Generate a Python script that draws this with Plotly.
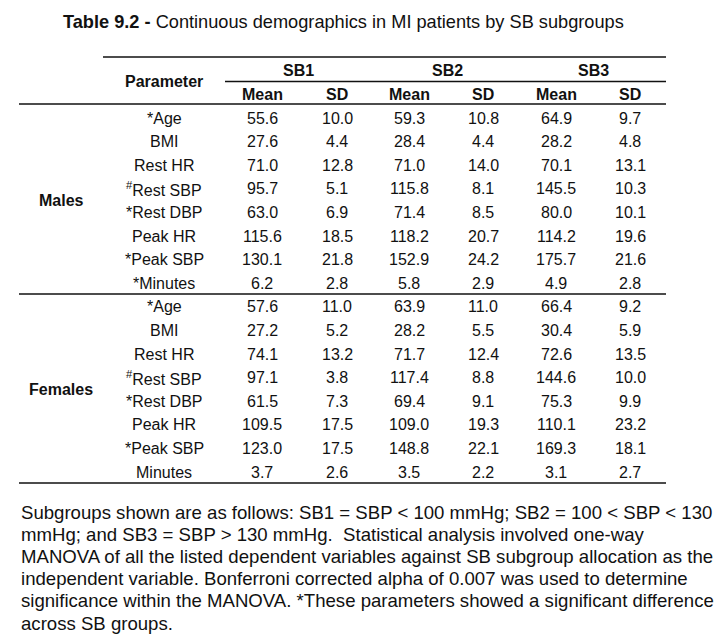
import plotly.graph_objects as go

# ---- data ----
title_bold = "Table 9.2 -"
title_rest = " Continuous demographics in MI patients by SB subgroups"
groups = ["SB1", "SB2", "SB3"]
stats = ["Mean", "SD"]
sections = ["Males", "Females"]

male_params = ["*Age", "BMI", "Rest HR", "<sup>#</sup>Rest SBP", "*Rest DBP", "Peak HR", "*Peak SBP", "*Minutes"]
female_params = ["*Age", "BMI", "Rest HR", "<sup>#</sup>Rest SBP", "*Rest DBP", "Peak HR", "*Peak SBP", "Minutes"]

male_sb1_mean = [55.6, 27.6, 71.0, 95.7, 63.0, 115.6, 130.1, 6.2]
male_sb1_sd = [10.0, 4.4, 12.8, 5.1, 6.9, 18.5, 21.8, 2.8]
male_sb2_mean = [59.3, 28.4, 71.0, 115.8, 71.4, 118.2, 152.9, 5.8]
male_sb2_sd = [10.8, 4.4, 14.0, 8.1, 8.5, 20.7, 24.2, 2.9]
male_sb3_mean = [64.9, 28.2, 70.1, 145.5, 80.0, 114.2, 175.7, 4.9]
male_sb3_sd = [9.7, 4.8, 13.1, 10.3, 10.1, 19.6, 21.6, 2.8]

female_sb1_mean = [57.6, 27.2, 74.1, 97.1, 61.5, 109.5, 123.0, 3.7]
female_sb1_sd = [11.0, 5.2, 13.2, 3.8, 7.3, 17.5, 17.5, 2.6]
female_sb2_mean = [63.9, 28.2, 71.7, 117.4, 69.4, 109.0, 148.8, 3.5]
female_sb2_sd = [11.0, 5.5, 12.4, 8.8, 9.1, 19.3, 22.1, 2.2]
female_sb3_mean = [66.4, 30.4, 72.6, 144.6, 75.3, 110.1, 169.3, 3.1]
female_sb3_sd = [9.2, 5.9, 13.5, 10.0, 9.9, 23.2, 18.1, 2.7]

footnote_lines = [
    "Subgroups shown are as follows: SB1 = SBP < 100 mmHg; SB2 = 100 < SBP < 130",
    "mmHg; and SB3 = SBP > 130 mmHg.  Statistical analysis involved one-way",
    "MANOVA of all the listed dependent variables against SB subgroup allocation as the",
    "independent variable. Bonferroni corrected alpha of 0.007 was used to determine",
    "significance within the MANOVA. *These parameters showed a significant difference",
    "across SB groups.",
]

# ---- layout geometry (pixels) ----
W, H = 727, 641
FONT = "Arial, Liberation Sans, sans-serif"
fs = 16
col_param_x = 164
group_x = [298, 447, 593]
stat_x = [262, 337, 409, 483, 556, 630]
row0_y = 118
row_step = 23.6
section_label_x = 61

fig = go.Figure()
ann = []

def add_text(x, y, text, size=fs, anchor="center", bold=False):
    t = f"<b>{text}</b>" if bold else text
    ann.append(dict(x=x, y=y, xref="x", yref="y", text=t, showarrow=False,
                    xanchor=anchor, yanchor="middle",
                    font=dict(family=FONT, size=size, color="#111111")))

# title
ann.append(dict(x=61, y=22, xref="x", yref="y",
                text=f"<b>{title_bold}</b>{title_rest}", showarrow=False,
                xanchor="left", yanchor="middle",
                font=dict(family=FONT, size=18.2, color="#111111")))

# header
add_text(col_param_x, 81, "Parameter", bold=True)
for gx, g in zip(group_x, groups):
    add_text(gx, 70, g, bold=True)
for i, sx in enumerate(stat_x):
    add_text(sx, 94, stats[i % 2], bold=True)

# body
male_cols = [male_sb1_mean, male_sb1_sd, male_sb2_mean, male_sb2_sd, male_sb3_mean, male_sb3_sd]
female_cols = [female_sb1_mean, female_sb1_sd, female_sb2_mean, female_sb2_sd, female_sb3_mean, female_sb3_sd]

row = 0
for sec, params, cols in [(sections[0], male_params, male_cols), (sections[1], female_params, female_cols)]:
    ys = [row0_y + (row + k) * row_step for k in range(len(params))]
    add_text(section_label_x, (ys[0] + ys[-1]) / 2, sec, bold=True)
    for k, p in enumerate(params):
        add_text(col_param_x, ys[k], p)
        for c, sx in enumerate(stat_x):
            add_text(sx, ys[k], f"{cols[c][k]:.1f}")
    row += len(params)

# footnote
for i, line in enumerate(footnote_lines):
    ann.append(dict(x=19, y=512 + i * 22.2, xref="x", yref="y", text=line,
                    showarrow=False, xanchor="left", yanchor="middle",
                    font=dict(family=FONT, size=18.6, color="#111111")))

# rules
shapes = []
def hline(x0, x1, y, w=1.3):
    shapes.append(dict(type="line", xref="x", yref="y", x0=x0, x1=x1, y0=y, y1=y,
                       line=dict(color="#111111", width=w)))
hline(103, 666, 57)
hline(225, 666, 81.5)
hline(19, 666, 104)
hline(19, 666, 294)
hline(19, 666, 483)

fig.update_layout(
    width=W, height=H, margin=dict(l=0, r=0, t=0, b=0),
    paper_bgcolor="white", plot_bgcolor="white",
    xaxis=dict(range=[0, W], visible=False, fixedrange=True),
    yaxis=dict(range=[H, 0], visible=False, fixedrange=True),
    annotations=ann, shapes=shapes, showlegend=False,
)
fig.write_html("out.html", config={"displayModeBar": False},
               post_script="document.body.style.margin='0';document.body.style.overflow='hidden';")
